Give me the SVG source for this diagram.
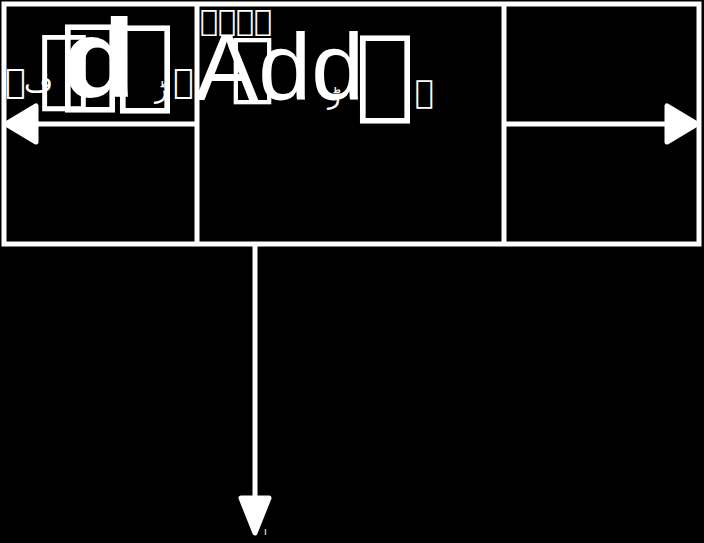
<svg xmlns="http://www.w3.org/2000/svg" width="704" height="543" viewBox="0 0 704 543">
<style>
.ln{stroke:#fff;stroke-width:5;fill:none}
.hd{fill:#fff;stroke:#fff;stroke-width:5;stroke-linejoin:round}
.t{fill:#fff;font-family:"DejaVu Sans",sans-serif}
.l{fill:#fff;font-family:"Liberation Sans",Arial,sans-serif}
</style>
<rect width="704" height="543" fill="#000"/>
<g id="frame">
<rect x="4" y="4" width="695" height="240" class="ln"/>
<line x1="197" y1="4" x2="197" y2="244" class="ln"/>
<line x1="504" y1="4" x2="504" y2="244" class="ln"/>
</g>
<g id="left-label">
<text x="5" y="93" class="t" font-size="34">&#xE000;</text>
<text x="38" y="96" class="t" font-size="87">&#xE000;</text>
<text x="60" y="95" class="t" font-size="100">&#xE000;</text>
<text x="62" y="97" class="l" font-size="112" font-weight="bold" transform="translate(62 97) scale(1.08 1) translate(-62 -97)">d</text>
<text x="115" y="96" class="t" font-size="100">&#xE000;</text>
<text x="24" y="92" class="t" font-size="28">ف</text>
<text x="155" y="98" class="t" font-size="26">ڑ</text>
<text x="173" y="93" class="t" font-size="34">&#xE000;</text>
</g>
<g id="center-label">
<text x="200" y="31" class="t" font-size="30">&#xE000;&#xE000;&#xE000;&#xE000;</text>
<text x="230" y="91" class="t" font-size="75">&#xE000;</text>
<text x="195" y="100" class="l" font-size="95">Add</text>
<text x="328" y="104" class="t" font-size="26">ڑ</text>
<text x="355" y="106" class="t" font-size="100">&#xE000;</text>
<text x="415" y="103" class="t" font-size="32">&#xE000;</text>
</g>
<g id="connectors">
<line x1="197" y1="124" x2="36" y2="124" class="ln" stroke-width="6"/>
<polygon points="6,124 36,106 36,142" class="hd"/>
<line x1="504" y1="124" x2="667" y2="124" class="ln" stroke-width="6"/>
<polygon points="697,124 667,106 667,142" class="hd"/>
<line x1="255" y1="244" x2="255" y2="500" class="ln" stroke-width="6"/>
<polygon points="255,533 241,498 269,498" class="hd"/>
<text x="264" y="535" class="t" font-size="10">ı</text>
</g>
</svg>
